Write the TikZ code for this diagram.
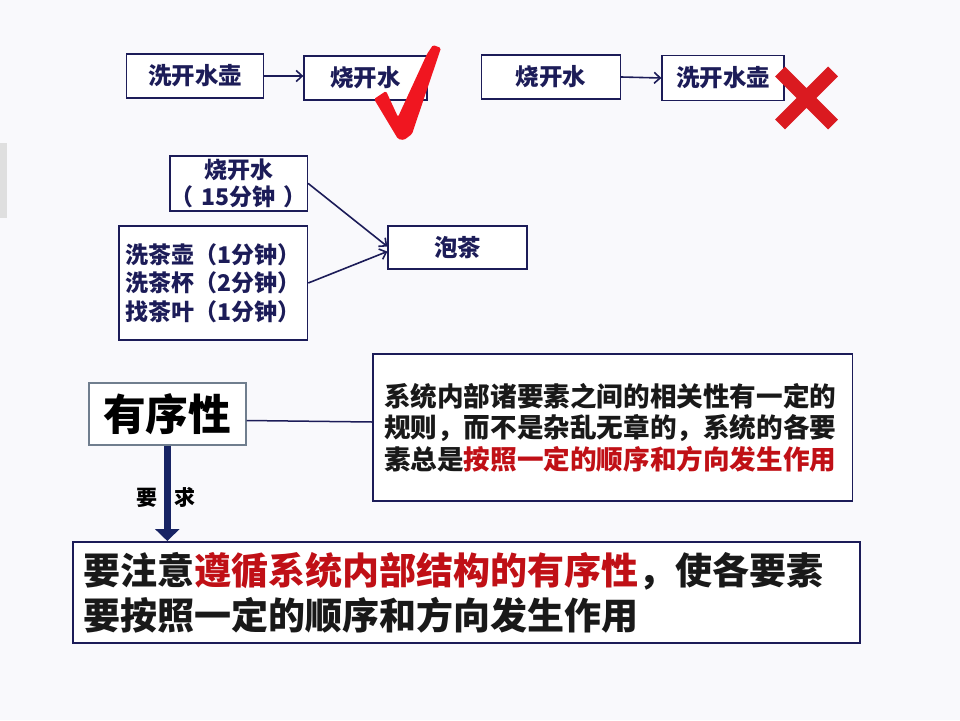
\documentclass[tikz,border=0pt]{standalone}
\usepackage{fontspec}
\setmainfont{Noto Sans CJK SC}
\usetikzlibrary{arrows.meta}

\definecolor{navy}{RGB}{28,28,88}
\definecolor{arrownavy}{RGB}{24,36,100}
\definecolor{darkred}{RGB}{192,16,22}
\definecolor{checkred}{RGB}{240,22,32}
\definecolor{crossred}{RGB}{218,26,32}
\definecolor{slide}{RGB}{249,249,252}
\definecolor{slate}{RGB}{112,126,142}

\begin{document}
\begin{tikzpicture}[
    x = 1pt, y = -1pt,
    box/.style = {draw = navy, line width = 1.3pt, fill = white,
        text = navy, inner sep = 0pt, align = center,
        font = \bfseries\fontsize{23.5}{28}\selectfont},
    textbox/.style = {draw = navy, fill = white, text = black!90,
        align = left, inner ysep = 0pt},
    link/.style = {draw = navy, line width = 1.6pt,
        -{Straight Barb[length = 6pt, width = 11pt]}}
]

\useasboundingbox (0,0) rectangle (960,720);
\fill[slide] (0,0) rectangle (960,720);
\fill[gray!25] (0,143) rectangle (7,218);

% the right order and the wrong one
\node[box, minimum width = 137pt, minimum height = 44pt] (wash1) at (195.3,76) {洗开水壶};
\node[box, minimum width = 123pt, minimum height = 44pt] (boil1) at (365.5,78) {烧开水};
\node[box, minimum width = 139pt, minimum height = 44pt] (boil2) at (551,77) {烧开水};
\node[box, minimum width = 122pt, minimum height = 45pt] (wash2) at (723,78) {洗开水壶};

\draw[link] (wash1.east) -- (wash1.east -| boil1.west);
\draw[link] (boil2.east) -- (wash2.west);

% check and cross
\fill[checkred, rounded corners = 1.5pt] (374,99) -- (386,91) -- (398,117) -- (427,54)
    -- (433,45) -- (441,48) -- (412,134) -- (404,140) -- (398,139) -- cycle;
\draw[crossred, line width = 14pt] (780,71.5) -- (833,124.5) (833,71.5) -- (780,124.5);

% making tea
\node[box, minimum width = 137.5pt, minimum height = 55pt,
    font = \bfseries\fontsize{23}{26.7}\selectfont] (boil15) at (238.7,183.4)
    {烧开水\\（\hspace{8pt}15分钟\hspace{8pt}）};
\node[box, minimum width = 139pt, minimum height = 43pt] (tea) at (457.5,247.5) {泡茶};
\node[box, minimum width = 188.6pt, minimum height = 114pt, align = left,
    font = \bfseries\fontsize{23}{28.3}\selectfont] (prep) at (213.3,283)
    {洗茶壶（1分钟）\\洗茶杯（2分钟）\\找茶叶（1分钟）};

\draw[link] (boil15.east) -- ([yshift = 1pt]tea.west);
\draw[link] (prep.east) -- ([yshift = -4pt]tea.west);

% orderliness
\node[draw = slate, line width = 1.8pt, fill = white, inner sep = 0pt,
    minimum width = 157pt, minimum height = 62pt,
    font = \bfseries\fontsize{42.7}{46}\selectfont] (order) at (167.3,414) {有序性};

\node[textbox, line width = 1.6pt, text width = 457pt, inner xsep = 11.2pt,
    minimum height = 147pt, font = \bfseries\fontsize{26.6}{31.7}\selectfont]
    (rule) at (612.6,427.5)
    {系统内部诸要素之间的相关性有一定的\\规则，而不是杂乱无章的，系统的各要\\素总是\textcolor{darkred}{按照一定的顺序和方向发生作用}};

\node[textbox, line width = 2pt, text width = 766pt, inner xsep = 10.5pt,
    minimum height = 101pt, font = \bfseries\fontsize{37}{45}\selectfont]
    (need) at (466.5,592.5)
    {要注意\textcolor{darkred}{遵循系统内部结构的有序性}，使各要素\\要按照一定的顺序和方向发生作用};

\draw[navy, line width = 1.5pt] ([yshift = -6.5pt]order.east) -- ([yshift = 5.5pt]rule.west);

\node[text = black, font = \bfseries\fontsize{21}{21}\selectfont] (req) at (166,497)
    {要\hspace{16.5pt}求};
\draw[arrownavy, line width = 7pt, -{Triangle[length = 12pt, width = 24pt]}]
    (order.south) -- (order.south |- need.north);

\end{tikzpicture}
\end{document}
